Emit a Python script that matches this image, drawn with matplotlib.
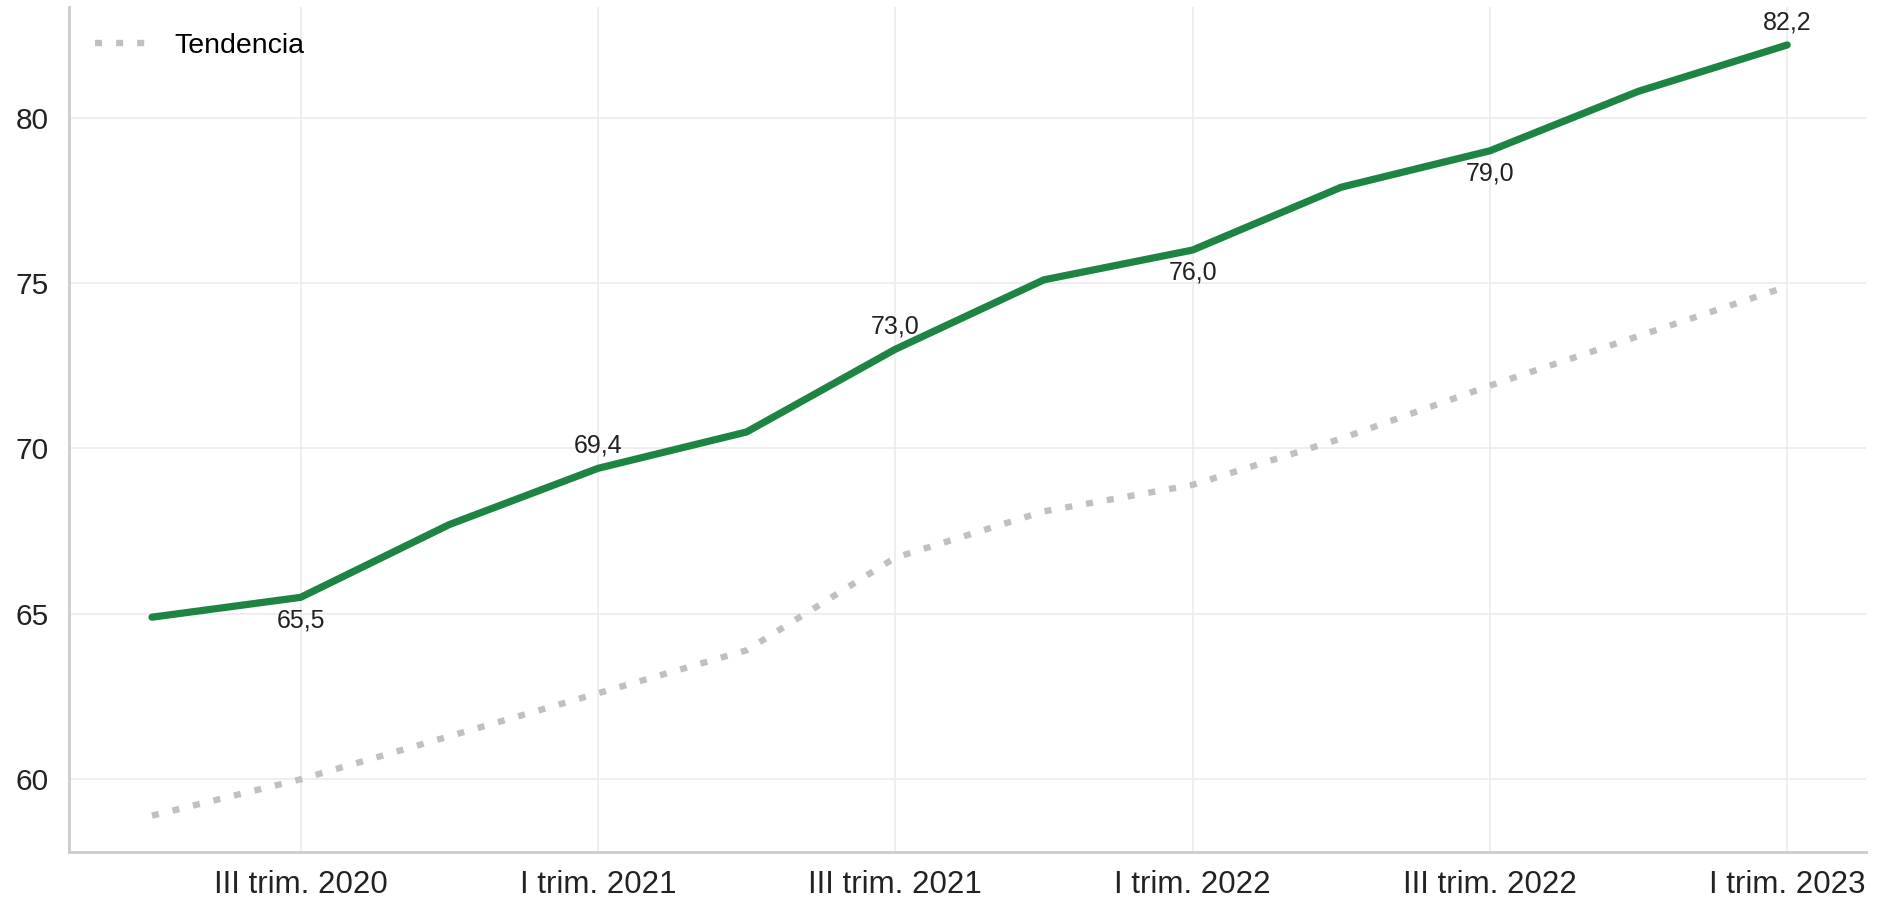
import matplotlib.pyplot as plt

# datos trimestrales
trimestres = ["II trim. 2020", "III trim. 2020", "IV trim. 2020", "I trim. 2021",
              "II trim. 2021", "III trim. 2021", "IV trim. 2021", "I trim. 2022",
              "II trim. 2022", "III trim. 2022", "IV trim. 2022", "I trim. 2023"]
valores = [64.9, 65.5, 67.7, 69.4, 70.5, 73.0, 75.1, 76.0, 77.9, 79.0, 80.8, 82.2]
tendencia = [58.9, 60.0, 61.3, 62.6, 63.9, 66.7, 68.1, 68.9, 70.3, 71.9, 73.4, 74.9]
etiquetas_x = ["III trim. 2020", "I trim. 2021", "III trim. 2021",
               "I trim. 2022", "III trim. 2022", "I trim. 2023"]
# posición de cada etiqueta de valor: arriba (+1) o abajo (-1)
lado_etiqueta = {"III trim. 2020": -1, "I trim. 2021": 1, "III trim. 2021": 1,
                 "I trim. 2022": -1, "III trim. 2022": -1, "I trim. 2023": 1}

plt.rcParams['font.family'] = ['Liberation Sans', 'DejaVu Sans']

fig = plt.figure(figsize=(18.78, 9), dpi=100)
ax = fig.add_axes([0.037, 0.0533, 0.9566, 0.939])

x = list(range(len(trimestres)))
ax.plot(x, valores, color='#1e8443', lw=5.2, solid_capstyle='round', solid_joinstyle='round', zorder=3)
ax.plot(x, tendencia, color='#c0c0c0', lw=4.6, linestyle=(0, (1.1, 2.2)), label='Tendencia', zorder=2)

for t, lado in lado_etiqueta.items():
    i = trimestres.index(t)
    ax.annotate(f"{valores[i]:.1f}".replace(".", ","), (i, valores[i]),
                xytext=(0, 16.5 * lado), textcoords='offset points',
                ha='center', va='center', fontsize=18, color='#222222')

ax.set_xticks([trimestres.index(t) for t in etiquetas_x])
ax.set_xticklabels(etiquetas_x)
ax.set_yticks([60, 65, 70, 75, 80])
ax.set_xlim(-0.555, 11.53)
ax.set_ylim(57.8, 83.35)

ax.tick_params(axis='x', length=0, labelsize=22.5, colors='#222222', pad=13)
ax.tick_params(axis='y', length=0, labelsize=21.5, colors='#222222', pad=15)
ax.grid(True, color='#ebebeb', lw=1.2)
ax.set_axisbelow(True)
for s in ['top', 'right']:
    ax.spines[s].set_visible(False)
for s in ['left', 'bottom']:
    ax.spines[s].set_color('#cccccc')
    ax.spines[s].set_linewidth(2)

ax.legend(loc='upper left', frameon=False, fontsize=20.5, handlelength=1.8,
          handletextpad=1.0, borderaxespad=0.5)

plt.savefig("out.png", dpi=100)
